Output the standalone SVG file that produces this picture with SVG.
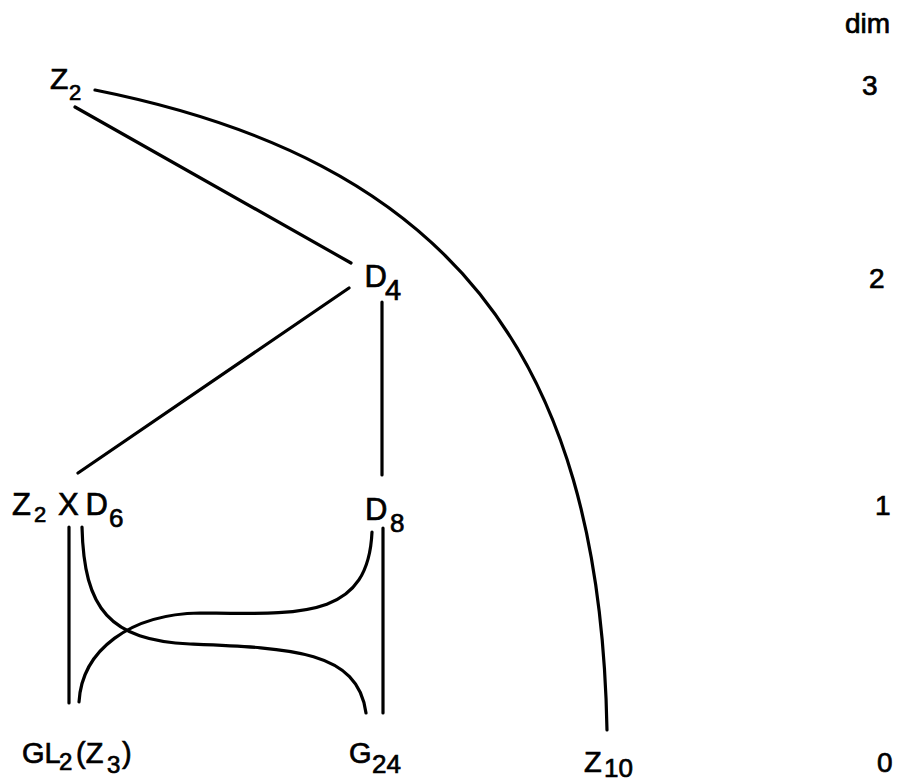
<svg xmlns="http://www.w3.org/2000/svg" width="903" height="783" viewBox="0 0 903 783">
<style>
  text { font-family: "Liberation Sans", Arial, Helvetica, sans-serif; fill: #000; stroke: #000; stroke-width: 0.7px; font-size: 31px; }
  .sub { font-size: 26px; }
  .lbl { font-size: 28px; }
  .edge { fill: none; stroke: #000; stroke-width: 3.2; stroke-linecap: round; }
</style>
<rect width="903" height="783" fill="#fff"/>
<g id="connectors">
  <path class="edge" d="M95,90 C445,160 600,350 607,730"/>
  <path class="edge" d="M75,107 L351,263"/>
  <path class="edge" d="M349,288 L78,473"/>
  <path class="edge" d="M382,302 L382,475"/>
  <path class="edge" d="M69,527 L69,703"/>
  <path class="edge" d="M383,528 L383,713"/>
  <path class="edge" d="M82,527 C84,610 110,640 190,644 C290,648 358,650 366,713"/>
  <path class="edge" d="M79,702 C82,650 130,614 200,613 C300,614 368,620 372,532"/>
</g>
<g id="node-Z2">
  <text x="50" y="89" style="font-size:30px">Z<tspan x="69" y="100" style="font-size:22px">2</tspan></text>
</g>
<g id="node-D4">
  <text x="364.5" y="287">D<tspan x="385" y="300" style="font-size:29px">4</tspan></text>
</g>
<g id="node-Z2xD6">
  <text x="12" y="515">Z<tspan x="34" y="522" style="font-size:22px">2</tspan><tspan x="58" y="515">X</tspan><tspan x="85.5" y="515">D</tspan><tspan class="sub" x="109" y="527">6</tspan></text>
</g>
<g id="node-D8">
  <text x="365" y="520">D<tspan class="sub" x="390" y="532">8</tspan></text>
</g>
<g id="node-GL2Z3">
  <text x="22" y="763" style="font-size:29px">GL<tspan x="59" y="770" style="font-size:24px">2</tspan><tspan x="76" y="763">(Z</tspan><tspan x="107" y="773" style="font-size:24px">3</tspan><tspan x="122" y="763">)</tspan></text>
</g>
<g id="node-G24">
  <text x="349" y="763" style="font-size:29px">G<tspan class="sub" x="372" y="773">24</tspan></text>
</g>
<g id="node-Z10">
  <text x="584" y="772" style="font-size:29px">Z<tspan class="sub" x="604" y="777">10</tspan></text>
</g>
<g id="dim-axis">
  <text class="lbl" x="845" y="33">dim</text>
  <text class="lbl" x="862" y="95">3</text>
  <text class="lbl" x="869" y="288">2</text>
  <text class="lbl" x="875" y="515">1</text>
  <text class="lbl" x="877" y="772">0</text>
</g>
</svg>
